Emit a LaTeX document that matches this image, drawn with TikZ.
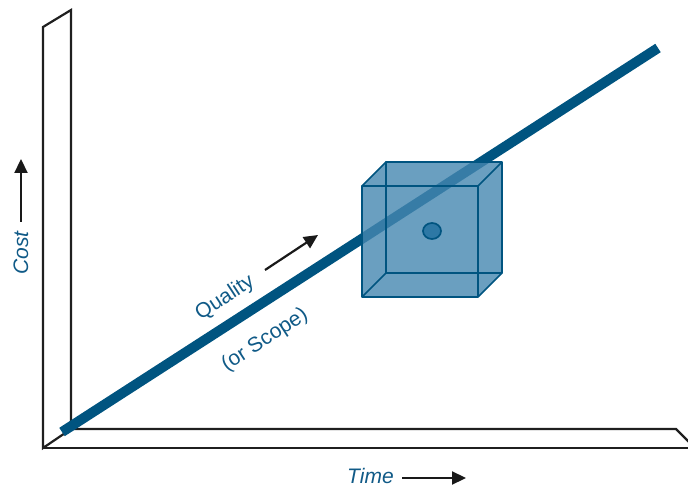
\documentclass[tikz,border=0pt]{standalone}
\usepackage{fontspec}
\setmainfont{Liberation Sans}
\usetikzlibrary{arrows.meta,shapes.geometric}
\definecolor{lineblue}{RGB}{0,84,128}
\definecolor{textblue}{RGB}{16,90,135}
\definecolor{cubefill}{RGB}{69,135,176}
\definecolor{dotfill}{RGB}{45,120,165}
\tikzset{
  frame/.style={draw=black!88, line width=2.2pt, line join=miter},
  cubeedge/.style={draw=lineblue, line width=1.7pt, line join=round},
  axisarrow/.style={draw=black!90, line width=2.2pt, -{Triangle[length=14pt,width=13pt]}},
  lbl/.style={text=textblue, font=\fontsize{21}{25}\selectfont, inner sep=0pt},
}
\begin{document}
\begin{tikzpicture}[x=1pt,y=-1pt]
\useasboundingbox (0,0) rectangle (688,489);
% wall
\draw[frame] (43,448) -- (43,27) -- (71,10) -- (71,429) -- cycle;
% floor
\draw[frame] (43,448) -- (700,448);
\draw[frame] (71,429) -- (676,429) -- (690,443);
% main line
\coordinate (ls) at (62,432);
\coordinate (le) at (658,48);
\draw[lineblue, line width=10pt] (ls) -- (le);
% cube
\fill[cubefill, opacity=0.8] (362,186) -- (386,162) -- (502,162) -- (502,273) -- (478,297) -- (362,297) -- cycle;
\draw[cubeedge] (386,162) rectangle (502,273);
\draw[cubeedge] (362,186) rectangle (478,297);
\draw[cubeedge] (362,186) -- (386,162);
\draw[cubeedge] (478,186) -- (502,162);
\draw[cubeedge] (478,297) -- (502,273);
\draw[cubeedge] (362,297) -- (386,273);
\node[ellipse, draw=lineblue, line width=1.7pt, fill=dotfill, minimum width=18pt, minimum height=16pt, inner sep=0pt] (dot) at (432,231) {};
% labels
\node[lbl, rotate=90] (cost) at (21,253) {\itshape Cost};
\coordinate (ca) at (21,222);
\coordinate (cb) at (21,159);
\draw[axisarrow] (ca) -- (cb);
\node[lbl, anchor=west] (time) at (347,476) {\itshape Time};
\coordinate (ta) at (402,478);
\coordinate (tb) at (466,478);
\draw[axisarrow] (ta) -- (tb);
\node[lbl, rotate=33] (qual) at (225,298) {Quality};
\node[lbl, rotate=33] (scope) at (265,340) {(or Scope)};
\coordinate (qa) at (265,270);
\coordinate (qb) at (318,235);
\draw[axisarrow] (qa) -- (qb);
\end{tikzpicture}
\end{document}
